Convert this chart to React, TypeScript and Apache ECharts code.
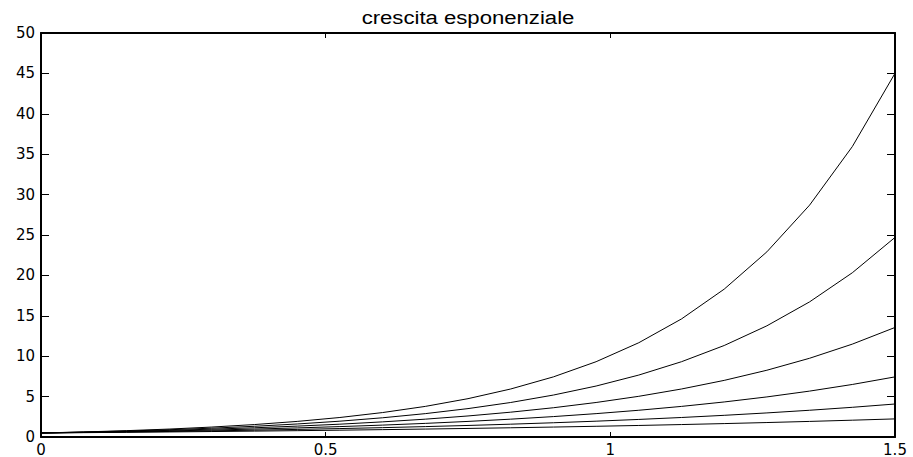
import React, { useEffect, useRef } from "react";
import * as echarts from "echarts";

const titleText = "crescita esponenziale";

const xs = [0, 0.075, 0.15, 0.225, 0.3, 0.375, 0.45, 0.525, 0.6, 0.675, 0.75, 0.825, 0.9, 0.975, 1.05, 1.125, 1.2, 1.275, 1.35, 1.425, 1.5];

const curveA = [0.5, 0.539, 0.581, 0.626, 0.675, 0.728, 0.784, 0.845, 0.911, 0.982, 1.059, 1.141, 1.23, 1.326, 1.429, 1.54, 1.66, 1.789, 1.929, 2.079, 2.241];
const curveB = [0.5, 0.555, 0.617, 0.685, 0.761, 0.845, 0.939, 1.043, 1.158, 1.286, 1.429, 1.587, 1.763, 1.958, 2.175, 2.415, 2.683, 2.98, 3.31, 3.676, 4.083];
const curveC = [0.5, 0.572, 0.655, 0.75, 0.858, 0.982, 1.124, 1.286, 1.472, 1.685, 1.929, 2.208, 2.527, 2.892, 3.31, 3.788, 4.336, 4.962, 5.68, 6.5, 7.44];
const curveD = [0.5, 0.59, 0.696, 0.82, 0.967, 1.141, 1.346, 1.587, 1.872, 2.208, 2.604, 3.071, 3.621, 4.271, 5.037, 5.941, 7.007, 8.264, 9.746, 11.494, 13.557];
const curveE = [0.5, 0.608, 0.739, 0.898, 1.091, 1.326, 1.611, 1.958, 2.379, 2.892, 3.514, 4.271, 5.191, 6.308, 7.666, 9.317, 11.323, 13.761, 16.724, 20.325, 24.701];
const curveF = [0.5, 0.626, 0.784, 0.982, 1.23, 1.54, 1.929, 2.415, 3.025, 3.788, 4.744, 5.941, 7.44, 9.317, 11.668, 14.612, 18.299, 22.917, 28.699, 35.939, 45.009];

const curves = [curveA, curveB, curveC, curveD, curveE, curveF];

const xMin = 0, xMax = 1.5, xStep = 0.5;
const yMin = 0, yMax = 50, yStep = 5;

export default function App() {
  const ref = useRef<HTMLDivElement>(null);
  useEffect(() => {
    if (!ref.current) return;
    const chart = echarts.init(ref.current, null, { renderer: "svg" });
    const font = '"DejaVu Sans", sans-serif';
    const axisLineStyle = { color: "#000", width: 2 };
    const baseX = {
      type: "value" as const,
      min: xMin,
      max: xMax,
      interval: xStep,
      splitLine: { show: false },
      axisLine: { show: true, onZero: false, lineStyle: axisLineStyle },
    };
    const baseY = {
      type: "value" as const,
      min: yMin,
      max: yMax,
      interval: yStep,
      splitLine: { show: false },
      axisLine: { show: true, onZero: false, lineStyle: axisLineStyle },
    };
    chart.setOption({
      animation: false,
      backgroundColor: "#fff",
      grid: { left: 41, right: 18, top: 33, bottom: 19, containLabel: false },
      graphic: [
        {
          type: "text",
          x: 468,
          y: 18,
          scaleX: 1.23,
          style: {
            text: titleText,
            font: '18px "Liberation Sans", Arial, sans-serif',
            fill: "#000",
            textAlign: "center",
            textVerticalAlign: "middle",
          },
        },
      ],
      xAxis: [
        {
          ...baseX,
          position: "bottom",
          axisTick: { show: true, inside: true, length: 5, lineStyle: { color: "#000", width: 1 } },
          axisLabel: { show: true, color: "#000", fontFamily: font, fontSize: 15, margin: 5 },
        },
        {
          ...baseX,
          position: "top",
          axisTick: { show: true, inside: true, length: 5, lineStyle: { color: "#000", width: 1 } },
          axisLabel: { show: false },
        },
      ],
      yAxis: [
        {
          ...baseY,
          position: "left",
          axisTick: { show: true, inside: true, length: 8, lineStyle: { color: "#000", width: 1 } },
          axisLabel: { show: true, color: "#000", fontFamily: font, fontSize: 15, margin: 6 },
        },
        {
          ...baseY,
          position: "right",
          axisTick: { show: true, inside: true, length: 8, lineStyle: { color: "#000", width: 1 } },
          axisLabel: { show: false },
        },
      ],
      series: curves.map((c, i) => ({
        name: "curve" + (i + 1),
        type: "line",
        xAxisIndex: 0,
        yAxisIndex: 0,
        data: xs.map((x, j) => [x, c[j]]),
        showSymbol: false,
        symbol: "none",
        lineStyle: { color: "#000", width: 1 },
        silent: true,
      })),
    });
    return () => chart.dispose();
  }, []);
  return <div ref={ref} style={{ width: 913, height: 457, position: "absolute", left: 0, top: 0 }} />;
}
